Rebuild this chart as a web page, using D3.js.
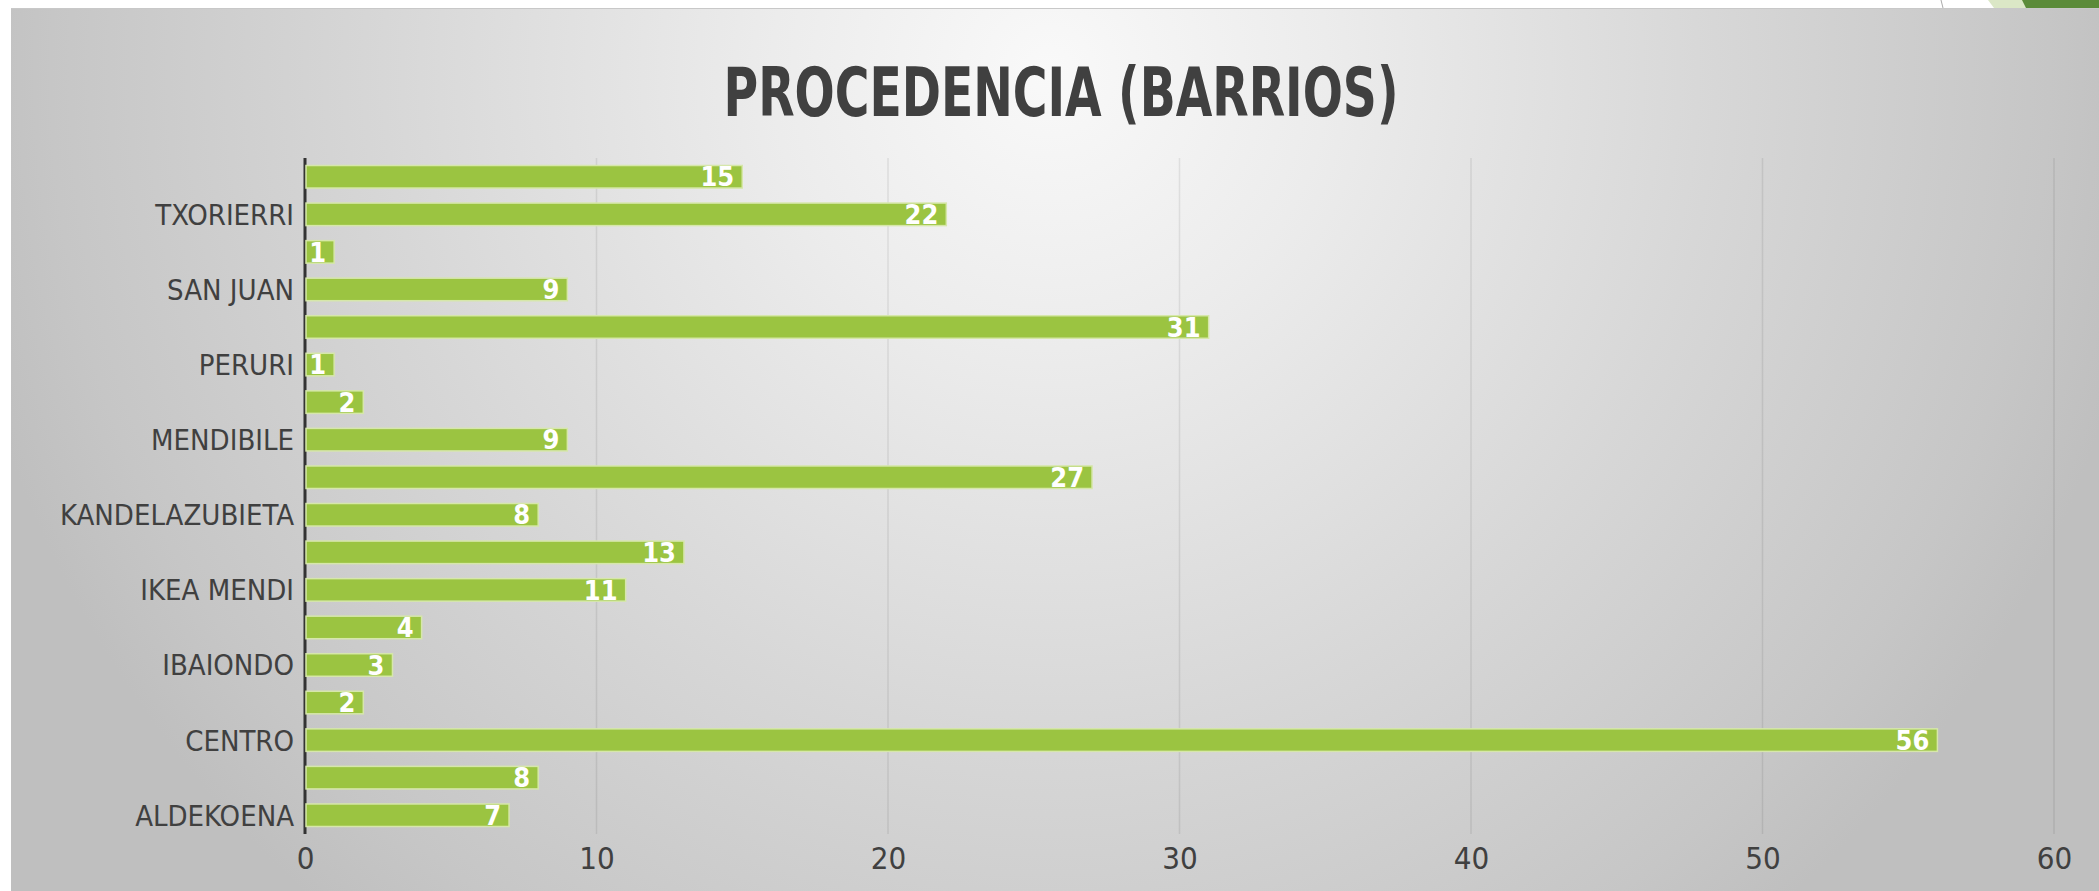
<!DOCTYPE html>
<html>
<head>
<meta charset="utf-8">
<script src="https://cdn.jsdelivr.net/npm/d3@7/dist/d3.min.js"></script>
<style>
	html,body{margin:0;padding:0;background:#fff;}
	svg{display:block;}
</style>
</head>
<body>
<div id="chart"></div>
<script>
// barrios, de abajo arriba (las etiquetas vacías las salta Excel)
var categories=['ALDEKOENA','','CENTRO','','IBAIONDO','','IKEA MENDI','','KANDELAZUBIETA','','MENDIBILE','','PERURI','','SAN JUAN','','TXORIERRI',''];
var values=[7,8,56,2,3,4,11,13,8,27,9,2,1,31,9,1,22,15];
var xTicks=[0,10,20,30,40,50,60];
var title='PROCEDENCIA (BARRIOS)';

var W=2099,H=891,
	plotLeft=305,plotRight=2054,plotTop=158,plotBottom=834,
	font='"DejaVu Sans Condensed","DejaVu Sans",sans-serif';

var svg=d3.select('#chart').append('svg')
	.attr('width',W).attr('height',H)
	.attr('xmlns','http://www.w3.org/2000/svg');

// fondo radial
var defs=svg.append('defs');
var grad=defs.append('radialGradient')
	.attr('id','bg').attr('gradientUnits','userSpaceOnUse')
	.attr('cx',1050).attr('cy',70).attr('r',1110);
[[0,'#f9f9f9'],[0.25,'#ececec'],[0.6,'#d7d7d7'],[0.9,'#c6c6c6'],[1,'#bfbfbf']].forEach(function(s){
	grad.append('stop').attr('offset',s[0]).attr('stop-color',s[1]);
});

svg.append('rect').attr('width',W).attr('height',H).attr('fill','#fff');
// adorno verde arriba a la derecha
svg.append('path').attr('d','M1988,0L2099,0L2099,8L1994,8Z').attr('fill','#dbe7c6');
svg.append('path').attr('d','M2022,0L2099,0L2099,8L2026,8Z').attr('fill','#5b8b39');
svg.append('path').attr('d','M1941,0L1943,8').attr('stroke','#aaa').attr('stroke-width',1);

svg.append('rect')
	.attr('x',11).attr('y',8).attr('width',W-11).attr('height',H-8)
	.attr('fill','url(#bg)');
svg.append('line')
	.attr('x1',11).attr('x2',W).attr('y1',8.5).attr('y2',8.5)
	.attr('stroke','#c8c8c8').attr('stroke-width',1);

// escalas
var x=d3.scaleLinear().domain([0,60]).range([plotLeft,plotRight]);
var y=d3.scaleBand()
	.domain(d3.range(values.length).reverse())
	.range([plotTop,plotBottom])
	.paddingInner(0.4).paddingOuter(0.2);

// rejilla
svg.append('g').selectAll('line')
	.data(xTicks.filter(function(d){return d>0;}))
	.enter().append('line')
	.attr('x1',function(d){return x(d);}).attr('x2',function(d){return x(d);})
	.attr('y1',plotTop).attr('y2',plotBottom)
	.attr('stroke','rgba(0,0,0,0.08)').attr('stroke-width',1.5);

// eje vertical
svg.append('line')
	.attr('x1',x(0)).attr('x2',x(0))
	.attr('y1',plotTop).attr('y2',plotBottom)
	.attr('stroke','#333').attr('stroke-width',3);

// barras
svg.append('g').selectAll('rect')
	.data(values).enter().append('rect')
	.attr('x',x(0)+1)
	.attr('y',function(d,i){return y(i);})
	.attr('width',function(d){return x(d)-x(0)-1;})
	.attr('height',y.bandwidth())
	.attr('fill','#9bc441')
	.attr('stroke','#d6e7aa').attr('stroke-width',1.5);

// etiquetas de datos
svg.append('g').selectAll('text')
	.data(values).enter().append('text')
	.attr('x',function(d){return x(d)-8;})
	.attr('y',function(d,i){return y(i)+y.bandwidth()/2;})
	.attr('dy','0.36em')
	.attr('text-anchor','end')
	.attr('font-family',font).attr('font-weight','bold').attr('font-size',27)
	.attr('fill','#fff')
	.text(function(d){return d;});

// eje de categorías
var gy=svg.append('g').attr('transform','translate('+x(0)+',0)')
	.call(d3.axisLeft(y).tickSize(0).tickPadding(11).tickFormat(function(i){return categories[i];}));
gy.select('.domain').remove();
gy.selectAll('text')
	.attr('font-family',font).attr('font-size',29).attr('fill','#404040')
	.attr('dy','0.36em');

// eje de valores
var gx=svg.append('g').attr('transform','translate(0,'+plotBottom+')')
	.call(d3.axisBottom(x).tickValues(xTicks).tickSize(0));
gx.select('.domain').remove();
gx.selectAll('text')
	.attr('y',24).attr('dy','0.36em')
	.attr('font-family',font).attr('font-size',31).attr('fill','#404040');

// titulo
svg.append('text')
	.attr('x',1061).attr('y',116)
	.attr('text-anchor','middle')
	.attr('font-family',font).attr('font-weight','bold').attr('font-size',67)
	.attr('fill','#404040')
	.attr('textLength',675).attr('lengthAdjust','spacingAndGlyphs')
	.text(title);
</script>
</body>
</html>
